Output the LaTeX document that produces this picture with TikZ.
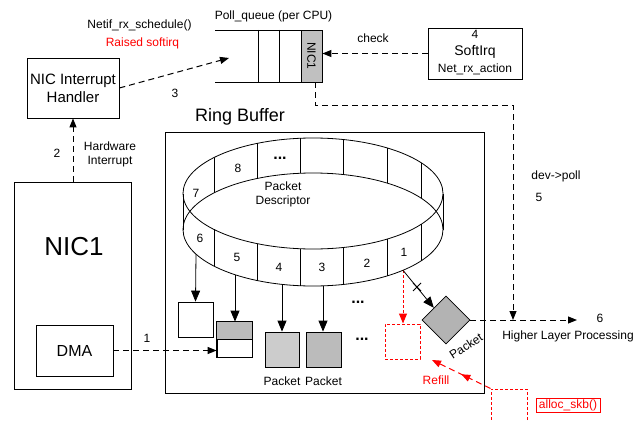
\documentclass[tikz,border=0pt]{standalone}
\usepackage{fontspec}
\setmainfont{Liberation Sans}
\usetikzlibrary{arrows.meta,shapes.geometric,decorations.markings,calc}
\definecolor{qgray}{HTML}{C0C0C0}
\definecolor{lgray}{HTML}{CCCCCC}
\definecolor{mgray}{HTML}{BBBBBB}
\definecolor{dgray}{HTML}{B3B3B3}
\definecolor{myred}{HTML}{FF0000}
\begin{document}
\begin{tikzpicture}[x=1pt,y=-1pt,
  every node/.style={font=\fontsize{12}{14}\selectfont, inner sep=0pt},
  box/.style={draw, line width=0.8pt, fill=white, inner sep=0pt},
  sq/.style={box, minimum width=35pt, minimum height=35pt},
  redsq/.style={draw=myred, line width=1pt, dash pattern=on 3pt off 2pt, minimum width=35pt, minimum height=35pt},
  dsh/.style={line width=1pt, dash pattern=on 6pt off 4pt},
  tipd/.style={-{Triangle[length=9pt,width=7pt]}},
  tips/.style={-{Triangle[length=11pt,width=9pt]}},
  ln/.style={line width=0.8pt},
  redtxt/.style={text=myred},
  dots/.style={font=\fontsize{16}{16}\selectfont\bfseries}
]
\useasboundingbox (0,0) rectangle (634,420);
\clip (0,0) rectangle (634,420);

% ---------- top part ----------
\node[box, minimum width=92pt, minimum height=60pt, align=center,
      font=\fontsize{15}{18}\selectfont] (handler) at (73,88) {NIC Interrupt\\Handler};
\node (netif) at (139.5,25) {Netif\_rx\_schedule()};
\node[redtxt] (raised) at (142.5,43) {Raised softirq};
\node (pqlabel) at (273.5,16) {Poll\_queue (per CPU)};
\node (three) at (175,93) {3};

% poll queue
\draw[ln] (215,30) -- (322,30);
\draw[ln] (215,82) -- (322,82);
\foreach \xx in {258,279} { \draw[ln] (\xx,30) -- (\xx,82); }
\node[box, fill=qgray, minimum width=21pt, minimum height=52pt] (nicq) at (311.5,56) {};
\node[rotate=-90] (nicqtxt) at (nicq.center) {NIC1};

% softirq
\node[box, minimum width=94pt, minimum height=51pt] (softirq) at (475,53.5) {};
\node (four) at (475,34) {4};
\node[font=\fontsize{14}{16}\selectfont] (softtxt) at (475,52) {SoftIrq};
\node (netrx) at (475,69) {Net\_rx\_action};
\node (check) at (373,38) {check};

% ---------- NIC ----------
\node[box, minimum width=117pt, minimum height=207pt] (nic) at (72.5,285.5) {};
\node[font=\fontsize{26}{30}\selectfont] (nictxt) at (74,247) {NIC1};
\node[box, minimum width=77pt, minimum height=51pt, font=\fontsize{16}{18}\selectfont] (dma) at (74.5,350.5) {DMA};
\node (two) at (57,153) {2};
\node[align=center] (hwint) at (110,154) {Hardware\\Interrupt};
\node (one) at (147,338) {1};

% ---------- Ring buffer ----------
\node[draw, line width=0.8pt, minimum width=319pt, minimum height=261pt] (rb) at (324.5,262.5) {};
\node[font=\fontsize{18}{20}\selectfont] (rbtxt) at (240,117) {Ring Buffer};

\draw[ln] (313,193.5) ellipse [x radius=130pt, y radius=55.5pt];
\draw[ln] (313,229.5) ellipse [x radius=130pt, y radius=56.5pt];
\draw[ln] (183,193.5) -- (183,229.5);
\draw[ln] (443,193.5) -- (443,229.5);
\foreach \xx in {214,257,300,343,387,421} {
  \pgfmathsetmacro{\s}{sqrt(1-((\xx-313)/130)^2)}
  \draw[ln] (\xx,{193.5-55.5*\s}) -- (\xx,{229.5-56.5*\s});
  \draw[ln] (\xx,{193.5+55.5*\s}) -- (\xx,{229.5+56.5*\s});
}
\node (c8) at (238,168) {8};
\node[dots] (cdots) at (280,158) {...};
\node (c7) at (196,193) {7};
\node (c6) at (200,238) {6};
\node (c5) at (237,257) {5};
\node (c4) at (279,267) {4};
\node (c3) at (322,267) {3};
\node (c2) at (367,263) {2};
\node (c1) at (404,252) {1};
\node[align=center] (pd) at (283,194) {Packet\\Descriptor};

\coordinate (r6) at (196,254);
\coordinate (r5) at (235,274.7);
\coordinate (r4) at (282,284.4);
\coordinate (r3) at (323,285.8);
\coordinate (r1) at (403,270.3);

% buffers
\node[sq] (box1) at (195.5,319.5) {};
\node[sq] (box2) at (234.5,339.5) {};
\fill[mgray] (box2.north west) rectangle (box2.east);
\draw[ln] (box2.north west) rectangle (box2.south east);
\draw[ln] (box2.west) -- (box2.east);
\node[sq, fill=lgray, minimum width=34pt] (box3) at (282,349.5) {};
\node[sq, fill=mgray] (box4) at (323.5,349.5) {};
\node (pk3) at (282,381) {Packet};
\node (pk4) at (323.5,381) {Packet};
\node[dots] (dots1) at (358,302) {...};
\node[dots] (dots2) at (362,339) {...};
\node[redsq] (redbox) at (402.5,341.5) {};
\node[diamond, draw, line width=0.8pt, fill=dgray, minimum width=48pt, minimum height=48pt, aspect=1] (pkt) at (446,320) {};
\node[rotate=33] (pkttxt) at (466,346) {Packet};

\draw[ln, tips] (r6) -- (box1.north);
\draw[ln, tips] (r5) -- (r5 |- box2.north);
\draw[ln, tips] (r4) -- (r4 |- box3.north);
\draw[ln, tips] (r3) -- (r3 |- box4.north);
\draw[myred, line width=1pt, dash pattern=on 3pt off 2pt, -{Triangle[length=10pt,width=8pt]}] (r1) -- (r1 |- redbox.north);
\draw[ln, tips] (r1) -- (pkt.north west);
\draw[ln] (413,283) -- (421,291);
\draw[ln] (413,291) -- (421,283);

% ---------- connectors ----------
\coordinate (qin) at (229,58);
\draw[dsh, tipd] (handler.east) -- (qin);
\draw[dsh, tipd] (softirq.west) -- (softirq.west -| nicq.east);
\draw[dsh, tipd] (nic.north -| handler.south) -- (handler.south);
\draw[dsh, tipd] (dma.east) -- (dma.east -| box2.west);
\coordinate (qout) at ($(nicq.south)+(3.5,0)$);
\coordinate (turn) at (513,105);
\coordinate (join) at (513,320);
\draw[dsh, tipd] (qout) |- (turn) -- (join);
\coordinate (hlp) at (577,320);
\draw[dsh, tipd] (pkt.east) -- (hlp);
\node (six) at (600,318) {6};
\node (hlptxt) at (568,336) {Higher Layer Processing};
\node (devpoll) at (556,176) {dev->poll};
\node (five) at (539,197) {5};

% refill
\node[redsq, minimum width=36pt, minimum height=40pt] (alloc) at (509,409) {};
\node[draw=myred, line width=0.8pt, redtxt, inner xsep=3pt, inner ysep=1.5pt] (allocl) at (568,405) {alloc\_skb()};
\coordinate (refend) at (432,360);
\draw[myred, line width=1pt, dash pattern=on 6pt off 4pt,
      postaction={decorate, decoration={markings, mark=at position 0.5 with {\arrow{Triangle[length=9pt,width=7pt]}}}},
      -{Triangle[length=9pt,width=7pt]}] (alloc.north west) -- (refend);
\node[redtxt] (refill) at (436,380) {Refill};
\end{tikzpicture}
\end{document}
